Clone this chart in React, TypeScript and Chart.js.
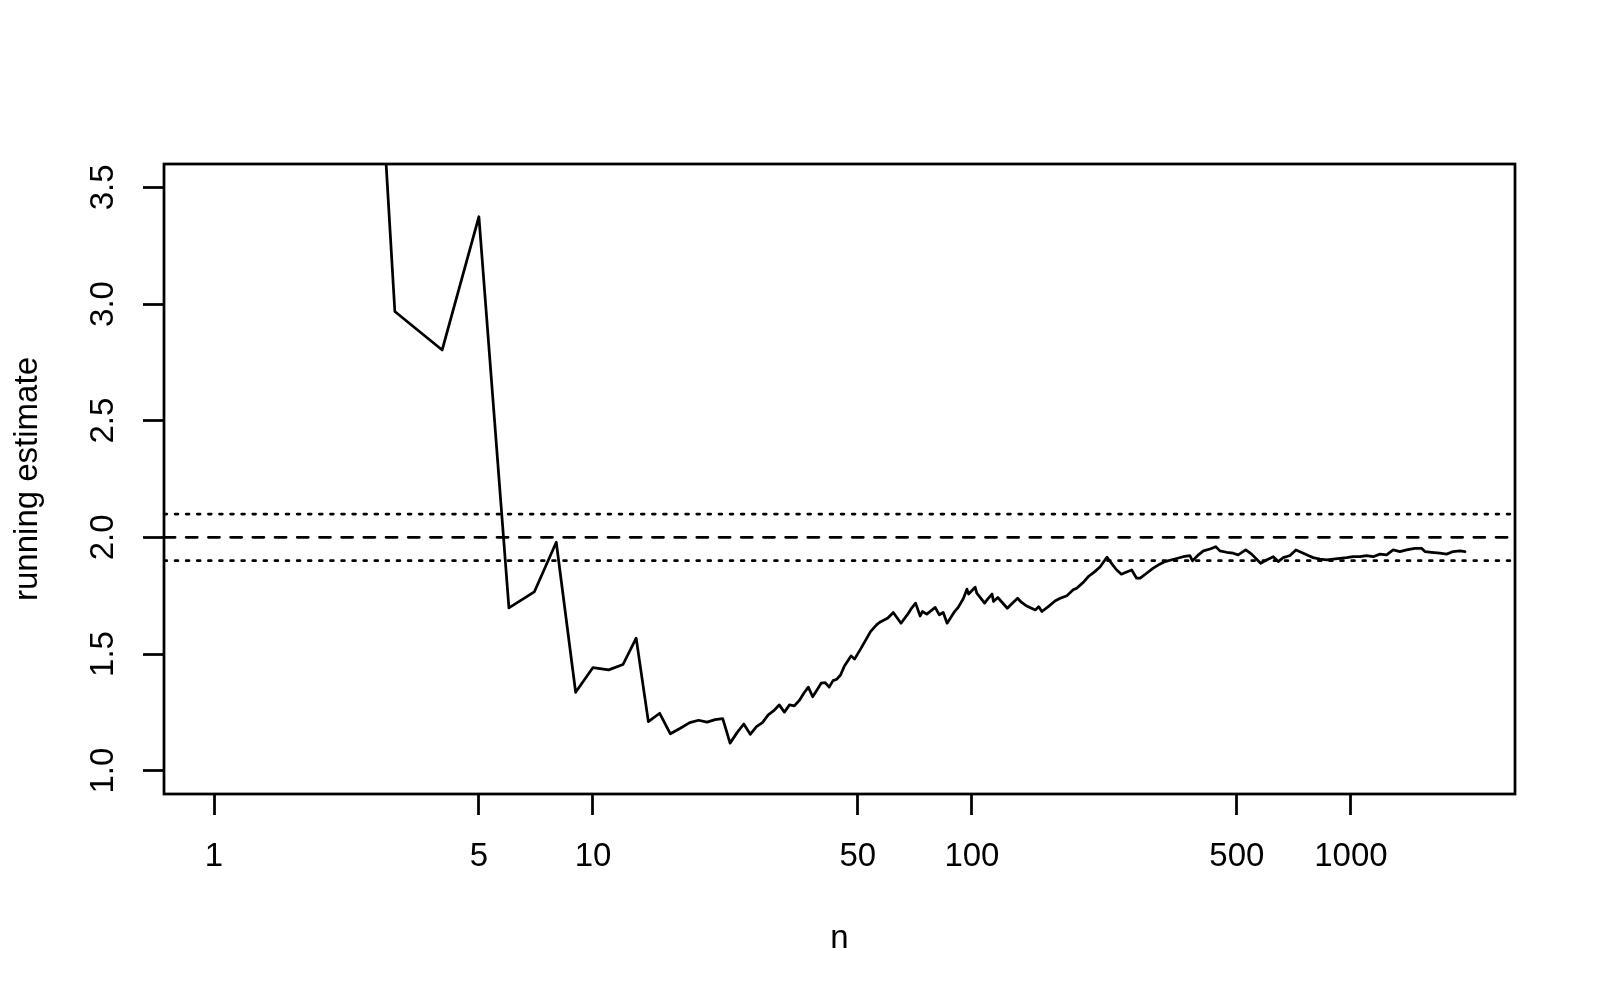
import { useEffect, useRef } from "react";
import { Chart, registerables, Plugin } from "chart.js";

Chart.register(...registerables);

// sample size n (log axis) and the running estimate
const sampleSizes = [
  1, 2, 3, 4, 5, 6, 7, 8, 9, 10, 11, 12, 13, 14, 15, 16, 17, 18, 19, 20,
  21, 22, 23, 24, 25, 26, 27, 28, 29, 30, 31, 32, 33, 34, 35, 36, 37, 38, 39, 40,
  41, 42, 43, 44, 45, 46, 48, 49, 51, 54, 56, 57, 60, 62, 65, 68, 69, 71, 73, 74,
  76, 80, 82, 84, 86, 90, 92, 95, 97, 98, 102, 103, 108, 110, 113, 114, 117, 124, 127, 132,
  135, 139, 147, 150, 153, 159, 166, 171, 178, 185, 189, 197, 203, 211, 218, 227, 236, 241, 248, 255,
  264, 272, 278, 289, 301, 313, 323, 343, 361, 376, 382, 396, 408, 425, 440, 451, 470, 489, 504, 528,
  547, 578, 599, 624, 643, 663, 691, 716, 749, 772, 795, 829, 863, 898, 935, 974, 1014, 1056, 1100, 1145,
  1193, 1242, 1293, 1347, 1403, 1475, 1536, 1568, 1633, 1717, 1789, 1862, 1940, 2000,
];

const runningEstimate = [
  4.5, 7.8, 2.968, 2.803, 3.374, 1.698, 1.766, 1.979, 1.336, 1.442, 1.432, 1.455, 1.568, 1.21, 1.246, 1.158, 1.182, 1.206, 1.216, 1.208,
  1.219, 1.223, 1.118, 1.163, 1.2, 1.156, 1.189, 1.206, 1.239, 1.257, 1.282, 1.251, 1.282, 1.278, 1.3, 1.332, 1.358, 1.317, 1.346, 1.375,
  1.377, 1.358, 1.386, 1.392, 1.41, 1.446, 1.492, 1.478, 1.525, 1.596, 1.625, 1.635, 1.654, 1.678, 1.632, 1.675, 1.692, 1.718, 1.663, 1.682,
  1.671, 1.7, 1.668, 1.678, 1.632, 1.682, 1.7, 1.739, 1.778, 1.757, 1.786, 1.761, 1.718, 1.735, 1.757, 1.725, 1.742, 1.696, 1.713, 1.739,
  1.722, 1.707, 1.689, 1.703, 1.682, 1.703, 1.728, 1.739, 1.75, 1.775, 1.782, 1.808, 1.832, 1.853, 1.874, 1.915, 1.879, 1.86, 1.842, 1.85,
  1.86, 1.825, 1.825, 1.846, 1.868, 1.885, 1.896, 1.907, 1.917, 1.922, 1.899, 1.925, 1.942, 1.95, 1.96, 1.942, 1.936, 1.932, 1.925, 1.946,
  1.928, 1.889, 1.903, 1.917, 1.896, 1.913, 1.922, 1.946, 1.932, 1.922, 1.913, 1.907, 1.903, 1.907, 1.91, 1.913, 1.917, 1.917, 1.922, 1.917,
  1.928, 1.925, 1.946, 1.939, 1.946, 1.953, 1.953, 1.939, 1.936, 1.932, 1.928, 1.939, 1.942, 1.939,
];

const xTicks = [1, 5, 10, 50, 100, 500, 1000];
const yTicks = [1.0, 1.5, 2.0, 2.5, 3.0, 3.5];
const yLimits = [1, 3.5];
const targetValue = 2.0;
const bandValues = [1.9, 2.1];

const FONT = '"Liberation Sans", Arial, Helvetica, sans-serif';
const FONT_SIZE = 33;
const LW = 2.75;

// R style: extend the axis range by 4% on each side
const logMin = Math.log10(Math.min(...sampleSizes));
const logMax = Math.log10(Math.max(...sampleSizes));
const logPad = (logMax - logMin) * 0.04;
const X_MIN = Math.pow(10, logMin - logPad);
const X_MAX = Math.pow(10, logMax + logPad);
const yPad = (yLimits[1] - yLimits[0]) * 0.04;
const Y_MIN = yLimits[0] - yPad;
const Y_MAX = yLimits[1] + yPad;

// box around the plot region plus the rotated y tick labels
const rFrame: Plugin = {
  id: "rFrame",
  afterDraw(chart) {
    const { ctx, chartArea, scales } = chart;
    ctx.save();
    ctx.strokeStyle = "#000";
    ctx.lineWidth = LW;
    ctx.strokeRect(chartArea.left, chartArea.top, chartArea.right - chartArea.left, chartArea.bottom - chartArea.top);

    ctx.fillStyle = "#000";
    ctx.font = `${FONT_SIZE}px ${FONT}`;
    ctx.textAlign = "center";
    ctx.textBaseline = "middle";
    yTicks.forEach((v) => {
      const py = scales.y.getPixelForValue(v);
      ctx.save();
      ctx.translate(chartArea.left - 60, py);
      ctx.rotate(-Math.PI / 2);
      ctx.fillText(v.toFixed(1), 0, 0);
      ctx.restore();
    });
    ctx.restore();
  },
};

export default function App() {
  const canvasRef = useRef<HTMLCanvasElement | null>(null);

  useEffect(() => {
    if (!canvasRef.current) return;
    const ctx = canvasRef.current.getContext("2d");
    if (!ctx) return;

    const hline = (v: number, dash: number[]) => ({
      data: [
        { x: X_MIN, y: v },
        { x: X_MAX, y: v },
      ],
      showLine: true,
      borderColor: "#000",
      borderWidth: LW,
      borderDash: dash,
      borderCapStyle: "round" as const,
      pointRadius: 0,
      order: 0,
    });

    const chart = new Chart(ctx, {
      type: "scatter",
      data: {
        datasets: [
          {
            data: sampleSizes.map((n, i) => ({ x: n, y: runningEstimate[i] })),
            showLine: true,
            borderColor: "#000",
            borderWidth: LW,
            borderJoinStyle: "round",
            borderCapStyle: "round",
            pointRadius: 0,
            tension: 0,
            order: 1,
          },
          hline(targetValue, [11.1, 11.1]),
          ...bandValues.map((v) => hline(v, [2.8, 8.3])),
        ],
      },
      options: {
        animation: false,
        responsive: false,
        devicePixelRatio: 1,
        layout: { padding: { top: 164, right: 85, left: 0, bottom: 0 } },
        plugins: {
          legend: { display: false },
          tooltip: { enabled: false },
        },
        scales: {
          x: {
            type: "logarithmic",
            position: "bottom",
            bounds: "data",
            min: X_MIN,
            max: X_MAX,
            afterBuildTicks: (scale) => {
              scale.ticks = xTicks.map((v) => ({ value: v }));
            },
            afterFit: (scale) => {
              scale.height = 206;
            },
            ticks: {
              autoSkip: false,
              minRotation: 0,
              maxRotation: 0,
              padding: 22,
              color: "#000",
              font: { family: FONT, size: FONT_SIZE },
              callback: (value) => String(value),
            },
            grid: {
              drawOnChartArea: false,
              drawTicks: true,
              tickLength: 21,
              tickWidth: LW,
              tickColor: "#000",
            },
            border: { display: false },
            title: {
              display: true,
              text: "n",
              color: "#000",
              font: { family: FONT, size: FONT_SIZE },
              padding: { top: 0, bottom: 41 },
            },
          },
          y: {
            type: "linear",
            position: "left",
            bounds: "data",
            min: Y_MIN,
            max: Y_MAX,
            afterBuildTicks: (scale) => {
              scale.ticks = yTicks.map((v) => ({ value: v }));
            },
            afterFit: (scale) => {
              scale.width = 164;
            },
            ticks: { display: false },
            grid: {
              drawOnChartArea: false,
              drawTicks: true,
              tickLength: 21,
              tickWidth: LW,
              tickColor: "#000",
            },
            border: { display: false },
            title: {
              display: true,
              text: "running estimate",
              color: "#000",
              font: { family: FONT, size: FONT_SIZE },
              padding: { top: 8, bottom: 0 },
            },
          },
        },
      },
      plugins: [rFrame],
    });

    return () => {
      chart.destroy();
    };
  }, []);

  return (
    <div style={{ position: "absolute", left: 0, top: 0, width: 1600, height: 1000, background: "#fff" }}>
      <canvas ref={canvasRef} width={1600} height={1000} style={{ width: 1600, height: 1000 }}></canvas>
    </div>
  );
}
